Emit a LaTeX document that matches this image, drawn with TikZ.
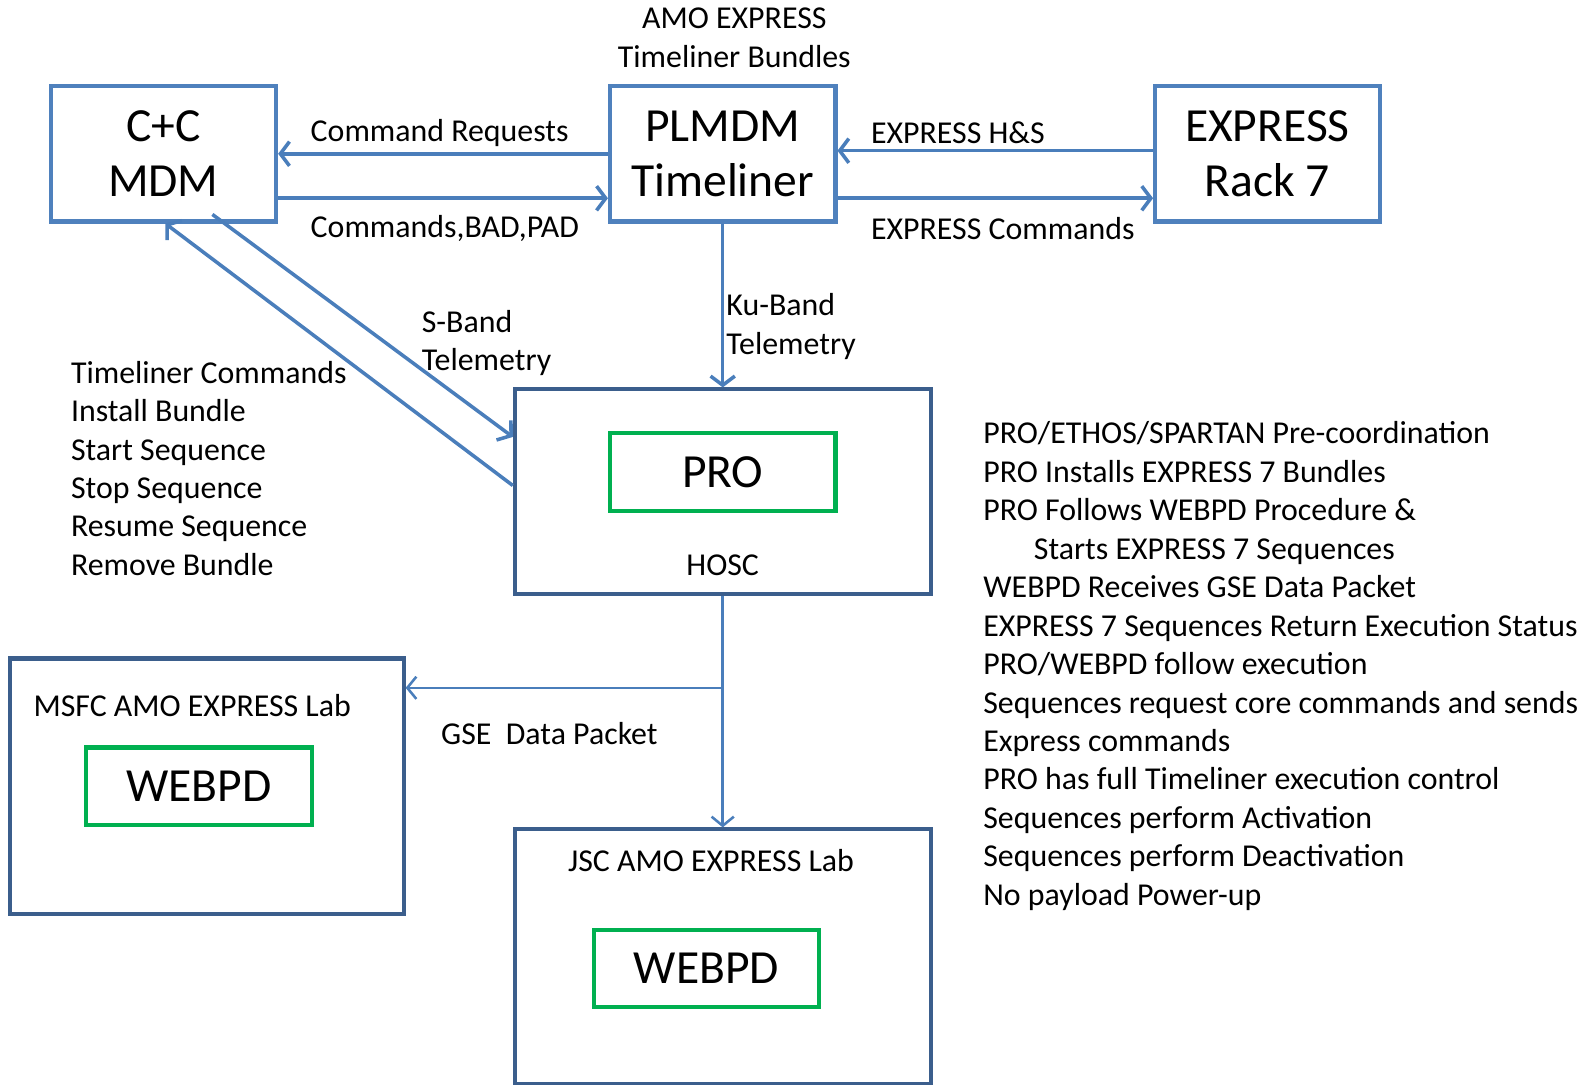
\documentclass[tikz,border=0pt]{standalone}
\usepackage{fontspec}
\setmainfont{Carlito}
\usetikzlibrary{arrows.meta}
\definecolor{lblue}{HTML}{4A7EBB}
\definecolor{bblue}{HTML}{4F81BD}
\definecolor{dblue}{HTML}{3B5E8C}
\definecolor{grn}{HTML}{00B050}
\begin{document}
\begin{tikzpicture}[x=1pt,y=-1pt,
  topbox/.style={draw=bblue,line width=4pt,minimum width=223pt,minimum height=134pt,inner sep=0pt,align=center,font=\fontsize{47}{55}\selectfont},
  labbox/.style={draw=dblue,line width=4pt,inner sep=0pt},
  gbox/.style={draw=grn,line width=4pt,minimum width=223pt,minimum height=77pt,inner sep=0pt,font=\fontsize{47}{50}\selectfont},
  arr/.style={draw=lblue,line width=3.5pt,-{Straight Barb[length=9pt,width=24pt]}},
  thin arr/.style={draw=lblue,line width=2.5pt,-{Straight Barb[length=9pt,width=22pt]}},
  lbl/.style={inner sep=0pt,anchor=west,align=left,font=\fontsize{31.5}{38}\selectfont}]
\useasboundingbox (0,0) rectangle (1568,1072);
% top boxes
\node[topbox] (cc) at (161.5,152) {C+C\\MDM};
\node[topbox] (plm) at (714.5,152) {PLMDM\\Timeliner};
\node[topbox,minimum width=222pt] (exp) at (1253,152) {EXPRESS\\Rack 7};
% lower boxes
\node[labbox,minimum width=411pt,minimum height=202pt] (hosc) at (714.5,486) {};
\node[gbox] (pro) at (714.5,466.5) {PRO};
\node[lbl,anchor=center] (hosct) at (714.5,559) {HOSC};
\node[labbox,minimum width=389pt,minimum height=253pt] (msfc) at (204.5,777.5) {};
\node[lbl] (msfct) at (33,698) {MSFC AMO EXPRESS Lab};
\node[gbox] (web1) at (196.5,777.5) {WEBPD};
\node[labbox,minimum width=411pt,minimum height=252pt] (jsc) at (714.5,946) {};
\node[lbl,anchor=center] (jsct) at (703,851) {JSC AMO EXPRESS Lab};
\node[gbox] (web2) at (698.5,957.5) {WEBPD};
% top arrows
\draw[arr] (plm.west |- 0,152) -- (cc.east |- 0,152);
\draw[arr] (cc.east |- 0,196) -- (plm.west |- 0,196);
\draw[arr] (exp.west |- 0,149) -- (plm.east |- 0,149);
\draw[arr] (plm.east |- 0,196) -- (exp.west |- 0,196);
\draw[arr] (plm.south) -- (hosc.north);
\coordinate (sb) at (210,212);
\draw[arr] (sb) -- (hosc.west |- 0,432);
\draw[arr] (hosc.west |- 0,480) -- ([xshift=2pt]cc.south);
% lower connectors
\coordinate (br) at (714.5,680);
\draw[thin arr] (hosc.south) -- (jsc.north);
\draw[thin arr] (br) -- (msfc.east |- br);
% labels
\node[lbl] (l1) at (307,131) {Command Requests};
\node[lbl] (l2) at (307,226) {Commands,BAD,PAD};
\node[lbl] (l3) at (861,131) {EXPRESS H\&S};
\node[lbl] (l4) at (861,226) {EXPRESS Commands};
\node[lbl,anchor=center,align=center] (l5) at (726,37.5) {AMO EXPRESS\\Timeliner Bundles};
\node[lbl] (l6) at (718,323) {Ku-Band\\Telemetry};
\node[lbl] (l7) at (417,339) {S-Band\\Telemetry};
\node[lbl] (l8) at (70,463) {Timeliner Commands\\Install Bundle\\Start Sequence\\Stop Sequence\\Resume Sequence\\Remove Bundle};
\node[lbl] (l9) at (436,725) {GSE\ \ Data Packet};
\node[lbl] (l10) at (972,658.5) {PRO/ETHOS/SPARTAN Pre-coordination\\PRO Installs EXPRESS 7 Bundles\\PRO Follows WEBPD Procedure \&\\\hspace*{50pt}Starts EXPRESS 7 Sequences\\WEBPD Receives GSE Data Packet\\EXPRESS 7 Sequences Return Execution Status\\PRO/WEBPD follow execution\\Sequences request core commands and sends\\Express commands\\PRO has full Timeliner execution control\\Sequences perform Activation\\Sequences perform Deactivation\\No payload Power-up};
\end{tikzpicture}
\end{document}
